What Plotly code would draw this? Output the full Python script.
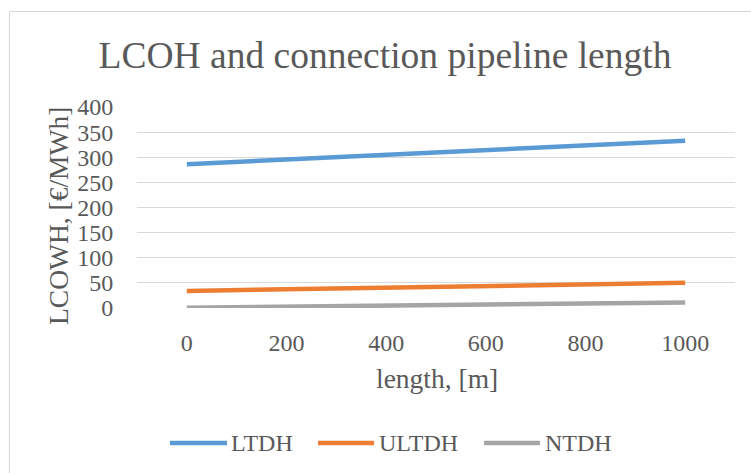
import plotly.graph_objects as go

# Connection pipeline length, m
length_m = [0, 200, 400, 600, 800, 1000]

# Levelised cost of heat, EUR/MWh
ltdh = [286, 295, 305, 314, 324, 333]
ultdh = [34, 37, 40, 44, 47, 50]
ntdh = [0.5, 3, 5, 7, 9, 11]

series_names = ["LTDH", "ULTDH", "NTDH"]
series_values = [ltdh, ultdh, ntdh]
series_colors = ["#5B9BD5", "#ED7D31", "#A5A5A5"]

y_ticks = [0, 50, 100, 150, 200, 250, 300, 350, 400]

FONT = "Liberation Serif, Times New Roman, serif"
TEXT = "#595959"
GRID = "#D9D9D9"

W, H = 751, 473
L, R, T, B = 137, 16, 107, 165
pw, ph = W - L - R, H - T - B


def px_x(x):
    return (x - L) / pw


def px_y(y):
    return (H - B - y) / ph


fig = go.Figure()
for name, vals, col in zip(series_names, series_values, series_colors):
    fig.add_trace(go.Scatter(
        x=length_m, y=vals, name=name, mode="lines",
        line=dict(color=col, width=4.5), showlegend=False,
    ))

shapes = [
    # outer chart frame
    dict(type="rect", xref="paper", yref="paper",
         x0=px_x(9.5), x1=px_x(775), y0=px_y(11.5), y1=px_y(490),
         line=dict(color=GRID, width=1), fillcolor="rgba(0,0,0,0)", layer="below"),
]
annotations = [
    dict(text="LCOWH, [€/MWh]", xref="paper", yref="paper",
         x=px_x(58), y=px_y(216), xanchor="center", yanchor="middle",
         textangle=-90, showarrow=False,
         font=dict(family=FONT, size=27.5, color=TEXT)),
    dict(text="length, [m]", xref="paper", yref="paper",
         x=px_x(437), y=px_y(378), xanchor="center", yanchor="middle",
         showarrow=False,
         font=dict(family=FONT, size=27.5, color=TEXT)),
]

# legend: line sample followed by series name
legend_items = [(170, 227, 229), (318, 374, 377), (484, 540, 543)]
ly = 443
for (x0, x1, tx), name, col in zip(legend_items, series_names, series_colors):
    shapes.append(dict(type="line", xref="paper", yref="paper",
                       x0=px_x(x0), x1=px_x(x1), y0=px_y(ly), y1=px_y(ly),
                       line=dict(color=col, width=4.5)))
    annotations.append(dict(text=name, xref="paper", yref="paper",
                            x=px_x(tx), y=px_y(ly), xanchor="left", yanchor="middle",
                            showarrow=False,
                            font=dict(family=FONT, size=24, color=TEXT)))

fig.update_layout(
    width=W, height=H,
    margin=dict(l=L, r=R, t=T, b=B),
    paper_bgcolor="white", plot_bgcolor="white",
    title=dict(text="LCOH and connection pipeline length",
               x=385 / W, xanchor="center", y=1 - 55 / H, yanchor="middle",
               font=dict(family=FONT, size=37.5, color=TEXT)),
    xaxis=dict(range=[-100, 1100], tickvals=length_m, showgrid=False,
               zeroline=False, showline=False,
               ticks="outside", ticklen=13, tickcolor="rgba(0,0,0,0)",
               tickfont=dict(family=FONT, size=24, color=TEXT)),
    yaxis=dict(range=[0, 400], tickvals=y_ticks, showgrid=True,
               gridcolor=GRID, gridwidth=1.3, zeroline=False, showline=False,
               ticks="outside", ticklen=18, tickcolor="rgba(0,0,0,0)",
               tickfont=dict(family=FONT, size=24, color=TEXT)),
    shapes=shapes, annotations=annotations,
)

fig.write_html("out.html")
